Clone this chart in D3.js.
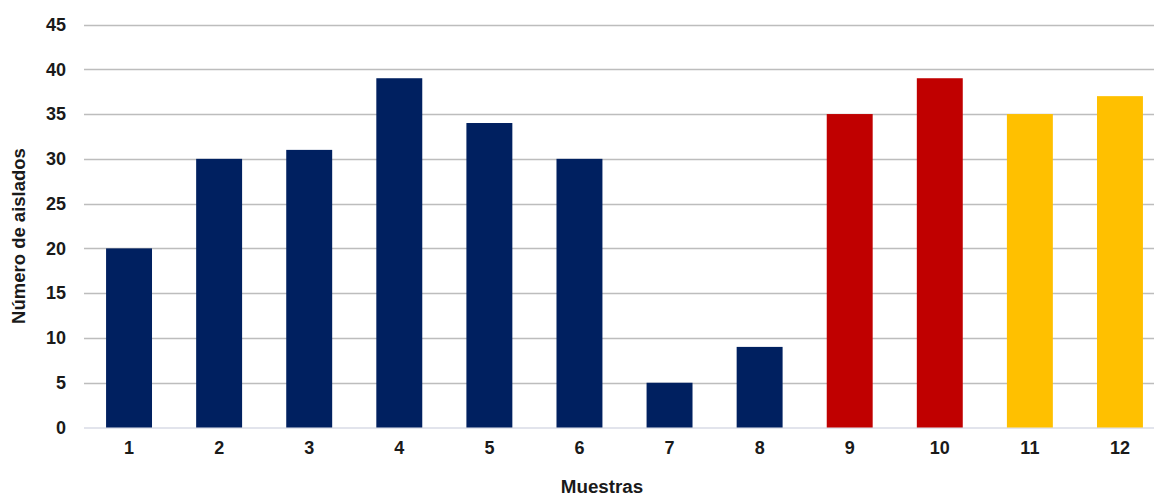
<!DOCTYPE html>
<html>
<head>
<meta charset="utf-8">
<script src="https://cdn.jsdelivr.net/npm/d3@7"></script>
<style>
  html, body { margin: 0; padding: 0; background: #fff; }
  svg { display: block; }
  text { font-family: "Liberation Sans", Arial, sans-serif; font-weight: bold; fill: #1a1a1a; }
</style>
</head>
<body>
<svg id="chart" width="1154" height="496"></svg>
<script>
// Isolate counts per sample
const categories = ["1", "2", "3", "4", "5", "6", "7", "8", "9", "10", "11", "12"];
const values = [20, 30, 31, 39, 34, 30, 5, 9, 35, 39, 35, 37];
const barColors = ["#002060", "#002060", "#002060", "#002060", "#002060", "#002060",
                   "#002060", "#002060", "#C00000", "#C00000", "#FFC000", "#FFC000"];
const yTicks = [0, 5, 10, 15, 20, 25, 30, 35, 40, 45];

const svg = d3.select("#chart");
const plotLeft = 84, plotRight = 1165, plotTop = 24.5, plotBottom = 427.5;

const x = d3.scaleBand().domain(categories).range([plotLeft, plotRight]).paddingInner(0.49).paddingOuter(0.245);
const y = d3.scaleLinear().domain([0, 45]).range([plotBottom, plotTop]);

// Horizontal gridlines
svg.append("g")
  .selectAll("line")
  .data(yTicks.filter(d => d > 0))
  .join("line")
  .attr("x1", plotLeft).attr("x2", 1154)
  .attr("y1", d => Math.round(y(d)) + 0.5).attr("y2", d => Math.round(y(d)) + 0.5)
  .attr("stroke", "#bdbdbd").attr("stroke-width", 1.3);

// Baseline
svg.append("line")
  .attr("x1", plotLeft).attr("x2", 1154)
  .attr("y1", y(0) + 0.5).attr("y2", y(0) + 0.5)
  .attr("stroke", "#d9dbe6").attr("stroke-width", 1.3);

// Bars
svg.append("g")
  .selectAll("rect")
  .data(values)
  .join("rect")
  .attr("x", (d, i) => x(categories[i]))
  .attr("y", d => y(d))
  .attr("width", x.bandwidth())
  .attr("height", d => y(0) - y(d))
  .attr("fill", (d, i) => barColors[i]);

// Y axis labels
const yAxis = d3.axisLeft(y).tickValues(yTicks).tickSize(0).tickPadding(18);
svg.append("g")
  .attr("transform", `translate(${plotLeft},0)`)
  .call(yAxis)
  .call(g => g.select(".domain").remove())
  .call(g => g.selectAll("text")
    .attr("font-size", 18).attr("font-family", null).attr("fill", "#1a1a1a"));

// X axis labels
const xAxis = d3.axisBottom(x).tickSize(0).tickPadding(14);
svg.append("g")
  .attr("transform", `translate(0,${plotBottom})`)
  .call(xAxis)
  .call(g => g.select(".domain").remove())
  .call(g => g.selectAll("text")
    .attr("font-size", 18).attr("font-family", null).attr("fill", "#1a1a1a"));

// Axis titles
svg.append("text")
  .attr("x", 602).attr("y", 493)
  .attr("text-anchor", "middle")
  .attr("font-size", 18.8)
  .text("Muestras");

svg.append("text")
  .attr("transform", "translate(25,236) rotate(-90)")
  .attr("text-anchor", "middle")
  .attr("font-size", 18.5)
  .text("Número de aislados");
</script>
</body>
</html>
